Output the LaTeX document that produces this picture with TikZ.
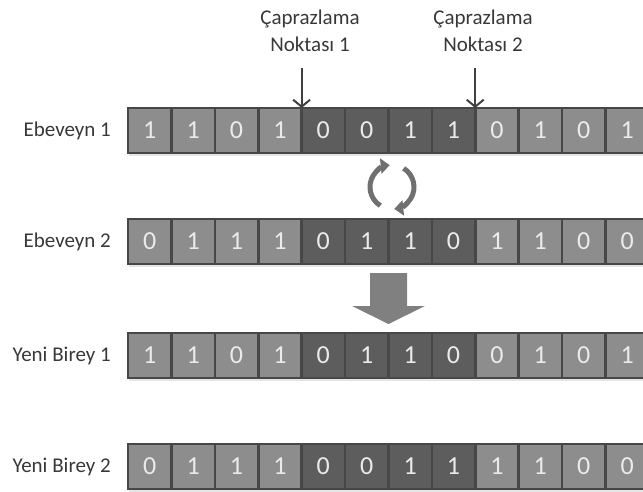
\documentclass[tikz,border=0pt]{standalone}
\usepackage{fontspec}
\setmainfont{Carlito}
\usetikzlibrary{arrows.meta}

\definecolor{cellLight}{HTML}{8D8D8D}
\definecolor{cellDark}{HTML}{5D5D5D}
\definecolor{cellLine}{HTML}{474747}
\definecolor{digitC}{HTML}{EBEBEB}
\definecolor{labelC}{HTML}{383838}
\definecolor{pointerC}{HTML}{404040}
\definecolor{iconC}{HTML}{707070}
\definecolor{bigArrowC}{HTML}{808080}

\tikzset{
  cell/.style={draw=cellLine, line width=2.6pt, minimum width=43.4pt,
    minimum height=45pt, inner sep=0pt, outer sep=0pt, anchor=north west,
    text=digitC, font=\fontsize{26}{26}\selectfont},
  rowlabel/.style={anchor=east, text=labelC, inner sep=0pt,
    font=\fontsize{21}{24}\selectfont},
  pointlabel/.style={align=center, text=labelC, inner sep=0pt,
    font=\fontsize{21}{27}\selectfont},
  pointer/.style={draw=pointerC, line width=2pt,
    -{Straight Barb[length=7pt,width=17pt,line width=2pt]}},
  swap/.style={draw=iconC, line width=5pt,
    -{Triangle[length=9pt,width=15pt]}},
  rowshadow/.style={fill=black!10}
}

% one chromosome: 12 genes, genes 5..8 form the dark middle segment
\newcommand\bitrow[3]{%
  \fill[rowshadow] (129,#2+3) rectangle (650,#2+48);
  \foreach \b [count=\i] in {#3} {%
    \ifnum\i>4 \ifnum\i<9 \def\cellfill{cellDark}\else\def\cellfill{cellLight}\fi
    \else\def\cellfill{cellLight}\fi
    \node[cell, fill=\cellfill] (r#1c\i) at ({128+43.4*(\i-1)},#2) {\b};
  }%
}

\begin{document}
\begin{tikzpicture}[x=1pt,y=-1pt]
\useasboundingbox (0,0) rectangle (643,492);
\clip (0,0) rectangle (643,492);

% chromosomes
\bitrow{1}{108}{1,1,0,1,0,0,1,1,0,1,0,1}
\bitrow{2}{219}{0,1,1,1,0,1,1,0,1,1,0,0}
\bitrow{3}{333}{1,1,0,1,0,1,1,0,0,1,0,1}
\bitrow{4}{444}{0,1,1,1,0,0,1,1,1,1,0,0}

% row labels
\node[rowlabel] (lab1) at (111,130.5) {Ebeveyn 1};
\node[rowlabel] (lab2) at (111,241.5) {Ebeveyn 2};
\node[rowlabel] (lab3) at (111,355.5) {Yeni Birey 1};
\node[rowlabel] (lab4) at (111,466.5) {Yeni Birey 2};

% crossover points
\node[pointlabel] (cp1) at (310,31) {Çaprazlama\\Noktası 1};
\node[pointlabel] (cp2) at (483,31) {Çaprazlama\\Noktası 2};
\path (r1c4.north east) ++(0,-40) coordinate (p1);
\path (r1c8.north east) ++(0,-40) coordinate (p2);
\draw[pointer] (p1) -- (r1c4.north east);
\draw[pointer] (p2) -- (r1c8.north east);

% exchange icon between the parents
\coordinate (swapc) at (392,187);
\draw[swap] (swapc) ++(122:22) arc[start angle=122, end angle=264, radius=22];
\draw[swap] (swapc) ++(-58:22) arc[start angle=-58, end angle=84, radius=22];

% offspring arrow
\fill[bigArrowC] (370,273) -- (407,273) -- (407,306) -- (425,306)
  -- (388.5,324) -- (352,306) -- (370,306) -- cycle;
\end{tikzpicture}
\end{document}
